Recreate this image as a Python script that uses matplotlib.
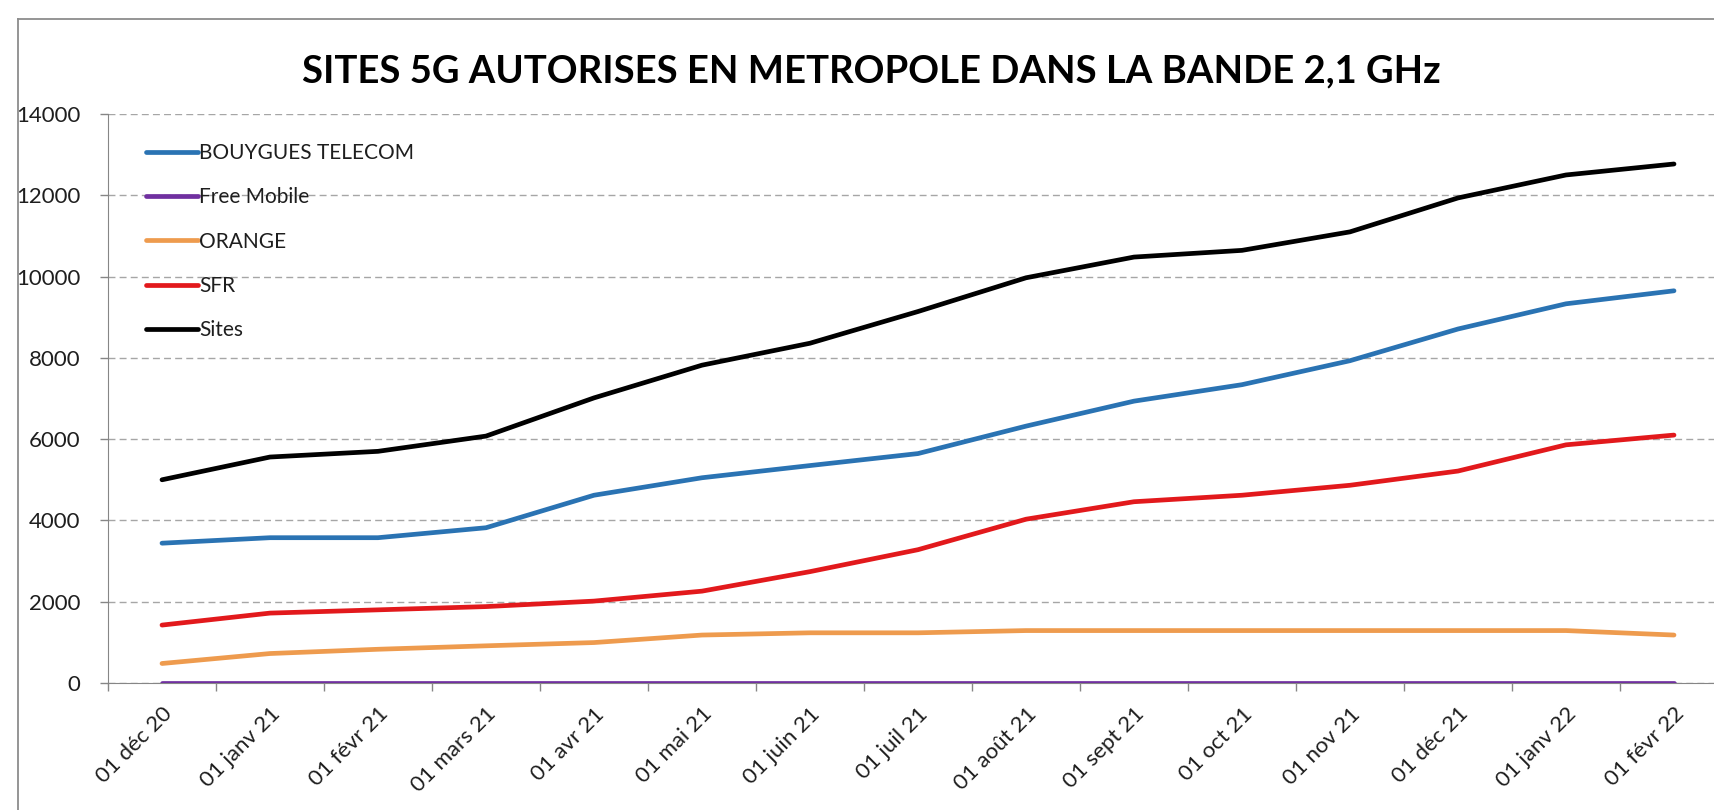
import matplotlib
matplotlib.use("Agg")
import matplotlib.pyplot as plt
from matplotlib.lines import Line2D

plt.rcParams['font.family'] = ['Lato', 'DejaVu Sans']

categories = ["01 déc 20", "01 janv 21", "01 févr 21", "01 mars 21", "01 avr 21",
              "01 mai 21", "01 juin 21", "01 juil 21", "01 août 21", "01 sept 21",
              "01 oct 21", "01 nov 21", "01 déc 21", "01 janv 22", "01 févr 22"]

bouygues = [3440, 3575, 3575, 3820, 4620, 5050, 5350, 5645, 6320, 6935, 7340, 7930, 8710, 9330, 9650]
free = [0, 0, 0, 0, 0, 0, 0, 0, 0, 0, 0, 0, 0, 0, 0]
orange = [480, 725, 830, 915, 995, 1180, 1235, 1235, 1290, 1290, 1290, 1290, 1290, 1290, 1180]
sfr = [1425, 1720, 1800, 1880, 2015, 2260, 2740, 3280, 4030, 4460, 4620, 4865, 5215, 5860, 6100]
sites = [5000, 5560, 5700, 6075, 7015, 7820, 8360, 9140, 9970, 10480, 10645, 11100, 11935, 12500, 12770]

series_names = ["BOUYGUES TELECOM", "Free Mobile", "ORANGE", "SFR", "Sites"]
series_values = [bouygues, free, orange, sfr, sites]
series_colors = ["#2A73B3", "#7030A0", "#EE9B4E", "#E2191C", "#000000"]

title = "SITES 5G AUTORISES EN METROPOLE DANS LA BANDE 2,1 GHz"
yticks = [0, 2000, 4000, 6000, 8000, 10000, 12000, 14000]

W, H = 1715, 810
fig = plt.figure(figsize=(W / 100, H / 100), dpi=100)
ax = fig.add_axes([108 / W, 1 - 683 / H, 1620 / W, 569 / H])

x = list(range(len(categories)))
for name, vals, col in zip(series_names, series_values, series_colors):
    ax.plot(x, vals, color=col, lw=3.4, label=name, solid_capstyle='round',
            solid_joinstyle='round', zorder=3)

ax.set_xlim(-0.5, len(categories) - 0.5)
ax.set_ylim(0, 14000)

# gridlines
ax.set_yticks(yticks)
ax.set_yticklabels([str(v) for v in yticks], fontsize=16, color="#1E1E1E")
ax.yaxis.grid(True, linestyle=(0, (5, 3)), color="#A6A6A6", lw=1.0)
ax.set_axisbelow(True)

# x ticks: marks at category boundaries, labels at category centers
ax.set_xticks([i - 0.5 for i in range(len(categories) + 1)])
ax.set_xticklabels([])
ax.set_xticks(x, minor=True)
ax.set_xticklabels(categories, minor=True, rotation=45, ha='right', va='top',
                   rotation_mode='anchor', fontsize=16, color="#1E1E1E")
ax.tick_params(axis='x', which='major', length=6, color="#868686", width=1, direction='out')
ax.tick_params(axis='x', which='minor', length=0, pad=15)
ax.tick_params(axis='y', length=6, color="#868686", width=1, pad=14)

for s in ['top', 'right']:
    ax.spines[s].set_visible(False)
ax.spines['left'].set_color("#868686")
ax.spines['bottom'].set_color("#868686")

leg = ax.legend(loc='upper left', bbox_to_anchor=(38 / 1620, 1 - 29 / 569), frameon=False,
                fontsize=15, handlelength=2.5, handletextpad=0.05, labelspacing=1.17,
                borderaxespad=0, borderpad=0)
for t in leg.get_texts():
    t.set_color("#1E1E1E")

fig.text(871 / W, 1 - 71 / H, title, ha='center', va='center', fontsize=27.5,
         fontweight='bold', color="#000000")

# outer chart border
fig.add_artist(Line2D([18 / W, 18 / W], [0, 1 - 19 / H], color="#8C8C8C", lw=1.3,
                      transform=fig.transFigure))
fig.add_artist(Line2D([18 / W, 1], [1 - 19 / H, 1 - 19 / H], color="#8C8C8C", lw=1.3,
                      transform=fig.transFigure))

fig.savefig("out.png", dpi=100, facecolor="white")
